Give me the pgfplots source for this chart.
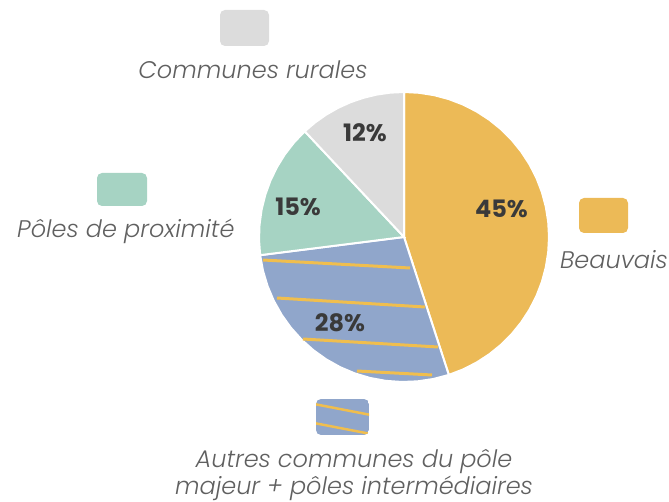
\documentclass[border=0pt]{standalone}
\usepackage{fontspec}
\usepackage{pgfplots}
\pgfplotsset{compat=1.18}
\newfontfamily\labfont{Poppins Light Italic}
\newfontfamily\pctfont{Poppins Bold}

\definecolor{cbeau}{HTML}{ECBA57}
\definecolor{cautre}{HTML}{90A6CB}
\definecolor{cprox}{HTML}{A6D3C3}
\definecolor{crur}{HTML}{DCDCDC}
\definecolor{cstripe}{HTML}{F0BE4E}
\definecolor{ctxt}{HTML}{606060}
\definecolor{cpct}{HTML}{3A3A3A}

\begin{document}
\begin{tikzpicture}
\useasboundingbox (0,0) rectangle (669pt,501pt);
\begin{axis}[
    scale only axis,
    width=669pt, height=501pt,
    xmin=-404, xmax=265,
    ymin=-264, ymax=237,
    hide axis,
    clip=false,
]

% slices: (angle, radius), 45 / 28 / 15 / 12 %
% Beauvais 45%
\addplot[data cs=polar, fill=cbeau, draw=white, line width=2pt] coordinates {
    (0,0) (90,145) (84,145) (78,145) (72,145) (66,145) (60,145) (54,145)
    (48,145) (42,145) (36,145) (30,145) (24,145) (18,145) (12,145) (6,145)
    (0,145) (-6,145) (-12,145) (-18,145) (-24,145) (-30,145) (-36,145)
    (-42,145) (-48,145) (-54,145) (-60,145) (-66,145) (-72,145)
} -- cycle;

% Autres communes 28%
\addplot[data cs=polar, fill=cautre, draw=white, line width=2pt] coordinates {
    (0,0) (-72,145) (-78.3,145) (-84.6,145) (-90.9,145) (-97.2,145)
    (-103.5,145) (-109.8,145) (-116.1,145) (-122.4,145) (-128.7,145)
    (-135,145) (-141.3,145) (-147.6,145) (-153.9,145) (-160.2,145)
    (-166.5,145) (-172.8,145)
} -- cycle;

% Poles de proximite 15%
\addplot[data cs=polar, fill=cprox, draw=white, line width=2pt] coordinates {
    (0,0) (-172.8,145) (-178.8,145) (-184.8,145) (-190.8,145) (-196.8,145)
    (-202.8,145) (-208.8,145) (-214.8,145) (-220.8,145) (-226.8,145)
} -- cycle;

% Communes rurales 12%
\addplot[data cs=polar, fill=crur, draw=white, line width=2pt] coordinates {
    (0,0) (-226.8,145) (-232.2,145) (-237.6,145) (-243,145) (-248.4,145)
    (-253.8,145) (-259.2,145) (-264.6,145) (-270,145)
} -- cycle;

% stripes on the 28% slice
\addplot[cstripe, line width=3pt] coordinates {(-141,-23) (6,-31)};
\addplot[cstripe, line width=3pt] coordinates {(-127,-61) (21,-70)};
\addplot[cstripe, line width=3pt] coordinates {(-101,-102) (34,-110)};
\addplot[cstripe, line width=3pt] coordinates {(-47,-134) (28,-138)};

% percentages
\node[font=\pctfont\fontsize{24}{28}\selectfont, text=cpct] at (axis cs:-39,104) {12\%};
\node[font=\pctfont\fontsize{24}{28}\selectfont, text=cpct] at (axis cs:-106,30) {15\%};
\node[font=\pctfont\fontsize{24}{28}\selectfont, text=cpct] at (axis cs:97.5,28) {45\%};
\node[font=\pctfont\fontsize{24}{28}\selectfont, text=cpct] at (axis cs:-64,-86) {28\%};

% legend keys
\fill[crur, rounded corners=5pt] (axis cs:-184,227) rectangle (axis cs:-135,191);
\fill[cprox, rounded corners=5pt] (axis cs:-307,64) rectangle (axis cs:-257,31);
\fill[cbeau, rounded corners=5pt] (axis cs:175,39) rectangle (axis cs:224,4);
\begin{scope}
\clip[rounded corners=5pt] (axis cs:-88,-162) rectangle (axis cs:-35,-198);
\fill[cautre] (axis cs:-88,-162) rectangle (axis cs:-35,-198);
\draw[cstripe, line width=2.5pt] (axis cs:-90,-167) -- (axis cs:-33,-178);
\draw[cstripe, line width=2.5pt] (axis cs:-90,-186) -- (axis cs:-33,-197);
\end{scope}

% legend labels
\node[font=\labfont\fontsize{24}{28}\selectfont, text=ctxt, anchor=base] at (axis cs:-151,158) {Communes rurales};
\node[font=\labfont\fontsize{24}{28}\selectfont, text=ctxt, anchor=base east] at (axis cs:-166,-1) {Pôles de proximité};
\node[font=\labfont\fontsize{24}{28}\selectfont, text=ctxt, anchor=base] at (axis cs:210,-31) {Beauvais};
\node[font=\labfont\fontsize{24}{28}\selectfont, text=ctxt, anchor=base] at (axis cs:-50,-230) {Autres communes du pôle};
\node[font=\labfont\fontsize{24}{28}\selectfont, text=ctxt, anchor=base] at (axis cs:-50,-257) {majeur + pôles intermédiaires};

\end{axis}
\end{tikzpicture}
\end{document}
